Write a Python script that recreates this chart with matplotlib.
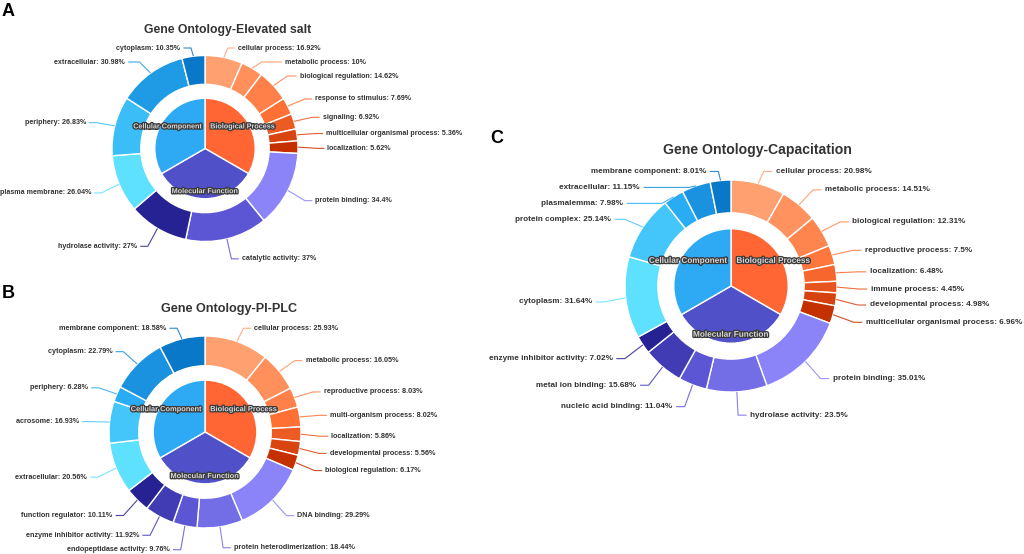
import numpy as np
import matplotlib
matplotlib.use("Agg")
import matplotlib.pyplot as plt
import matplotlib.patheffects as pe

W, H = 1024, 554
FONT = "Liberation Sans"

# ---------------- data ----------------
CATEGORIES = ["Biological Process", "Molecular Function", "Cellular Component"]
INNER_SHARES = [1, 1, 1]

A_TITLE = "Gene Ontology-Elevated salt"
A_BP_NAMES = ["cellular process", "metabolic process", "biological regulation",
              "response to stimulus", "signaling", "multicellular organismal process",
              "localization"]
A_BP_VALS = [16.92, 10, 14.62, 7.69, 6.92, 5.36, 5.62]
A_MF_NAMES = ["protein binding", "catalytic activity", "hydrolase activity"]
A_MF_VALS = [34.4, 37, 27]
A_CC_NAMES = ["plasma membrane", "periphery", "extracellular", "cytoplasm"]
A_CC_VALS = [26.04, 26.83, 30.98, 10.35]

B_TITLE = "Gene Ontology-PI-PLC"
B_BP_NAMES = ["cellular process", "metabolic process", "reproductive process",
              "multi-organism process", "localization", "developmental process",
              "biological regulation"]
B_BP_VALS = [25.93, 16.05, 8.03, 8.02, 5.86, 5.56, 6.17]
B_MF_NAMES = ["DNA binding", "protein heterodimerization", "endopeptidase activity",
              "enzyme inhibitor activity", "function regulator"]
B_MF_VALS = [29.29, 18.44, 9.76, 11.92, 10.11]
B_CC_NAMES = ["extracellular", "acrosome", "periphery", "cytoplasm", "membrane component"]
B_CC_VALS = [20.56, 16.93, 6.28, 22.79, 18.58]

C_TITLE = "Gene Ontology-Capacitation"
C_BP_NAMES = ["cellular process", "metabolic process", "biological regulation",
              "reproductive process", "localization", "immune process",
              "developmental process", "multicellular organismal process"]
C_BP_VALS = [20.98, 14.51, 12.31, 7.5, 6.48, 4.45, 4.98, 6.96]
C_MF_NAMES = ["protein binding", "hydrolase activity", "nucleic acid binding",
              "metal ion binding", "enzyme inhibitor activity"]
C_MF_VALS = [35.01, 23.5, 11.04, 15.68, 7.02]
C_CC_NAMES = ["cytoplasm", "protein complex", "plasmalemma", "extracellular",
              "membrane component"]
C_CC_VALS = [31.64, 25.14, 7.98, 11.15, 8.01]

# ---------------- styles ----------------
INNER_COLORS = ["#ff6633", "#5050c8", "#2eaaf5"]
BP_STOPS = [(255, 160, 112), (255, 112, 52), (196, 48, 0)]
MF_STOPS = [(138, 132, 248), (92, 86, 212), (38, 34, 148)]
CC_STOPS = [(94, 224, 255), (42, 172, 245), (10, 120, 200)]


def shades(stops, n):
    arr = np.array(stops, dtype=float) / 255.0
    if n == 1:
        return [tuple(arr[0])]
    t = np.linspace(0, 1, n)
    pos = np.linspace(0, 1, len(arr))
    return [tuple(np.interp(ti, pos, arr[:, k]) for k in range(3)) for ti in t]


def Y(y):
    return H - y


def draw_chart(ax, cx, cy, r, title, groups):
    s = r / 93.0
    names, vals, cols = [], [], []
    for (nm, vl), stops in zip(groups, [BP_STOPS, MF_STOPS, CC_STOPS]):
        names += nm
        vals += vl
        cols += shades(stops, len(vl))

    wedges, _ = ax.pie(vals, radius=r, center=(cx, Y(cy)), startangle=90,
                       counterclock=False, colors=cols,
                       wedgeprops=dict(width=r * 0.31, edgecolor="white", linewidth=1.0))
    r_in = 0.54 * r
    iw, _ = ax.pie(INNER_SHARES, radius=r_in, center=(cx, Y(cy)), startangle=90,
                   counterclock=False, colors=INNER_COLORS,
                   wedgeprops=dict(edgecolor="white", linewidth=1.0))

    # inner labels
    for w, cat in zip(iw, CATEGORIES):
        mid = np.deg2rad((w.theta1 + w.theta2) / 2)
        px = cx + 0.86 * r_in * np.cos(mid)
        py = cy - 0.86 * r_in * np.sin(mid)
        ax.text(px, Y(py), cat, ha="center", va="center", fontsize=5.2 * s,
                fontweight="bold", family=FONT, color="#d9d9d9", zorder=6,
                path_effects=[pe.Stroke(linewidth=1.9, foreground="#3a3a3a"), pe.Normal()])

    # outer labels (echarts-like layout)
    R = r + 19 * s
    cyl = cy + 1.5 * s
    K = 10.5 * s
    hgap = 14 * s
    top = cy - 100.5 * s
    items = []
    for w, nm, vl, col in zip(wedges, names, vals, cols):
        mid = np.deg2rad((w.theta1 + w.theta2) / 2)
        ux, uy = np.cos(mid), -np.sin(mid)
        d = 1 if ux >= 0 else -1
        items.append(dict(text=f"{nm}: {vl:g}%", col=col, d=d,
                          ex=cx + r * ux, ey=cy + r * uy,
                          bx=cx + R * ux, y=cyl + R * uy))
    for side in (1, -1):
        lst = sorted([it for it in items if it["d"] == side], key=lambda it: it["y"])
        prev = -1e9
        for it in lst:
            y0 = it["y"]
            if y0 < top:
                y0 = top
            pushed = False
            if y0 < prev + hgap:
                y0 = prev + hgap
                pushed = True
            nat = abs(it["bx"] - cx)
            if pushed:
                dy = y0 - cyl
                nat = max(nat, np.sqrt(max(R * R - dy * dy, 0.0)))
            it["y"] = y0
            it["tx"] = cx + side * (nat + K)
            prev = y0
    for it in items:
        d = it["d"]
        ax.plot([it["ex"], it["bx"], it["tx"] - d * 3 * s],
                [Y(it["ey"]), Y(it["y"]), Y(it["y"])],
                color=it["col"], lw=0.8, alpha=0.85, zorder=3, solid_capstyle="butt")
        ax.text(it["tx"], Y(it["y"]), it["text"], ha="left" if d > 0 else "right",
                va="center", fontsize=5.1 * s, fontweight="bold", family=FONT,
                color="#333333", zorder=5)

    ax.text(cx + 23 * s, Y(cy - 119 * s), title, ha="center", va="center",
            fontsize=8.85 * s, fontweight="bold", family=FONT, color="#333333")


fig = plt.figure(figsize=(W / 100, H / 100), dpi=100)
ax = fig.add_axes([0, 0, 1, 1])

draw_chart(ax, 205, 148.5, 93, A_TITLE,
           [(A_BP_NAMES, A_BP_VALS), (A_MF_NAMES, A_MF_VALS), (A_CC_NAMES, A_CC_VALS)])
draw_chart(ax, 205, 432, 96, B_TITLE,
           [(B_BP_NAMES, B_BP_VALS), (B_MF_NAMES, B_MF_VALS), (B_CC_NAMES, B_CC_VALS)])
draw_chart(ax, 731, 286, 106, C_TITLE,
           [(C_BP_NAMES, C_BP_VALS), (C_MF_NAMES, C_MF_VALS), (C_CC_NAMES, C_CC_VALS)])

for letter, (lx, ly) in zip(["A", "B", "C"], [(2, 16), (2, 298), (490, 143)]):
    ax.text(lx, Y(ly), letter, ha="left", va="baseline", fontsize=13,
            fontweight="bold", family=FONT, color="black")

ax.set_xlim(0, W)
ax.set_ylim(0, H)
ax.set_aspect("equal")
ax.axis("off")
fig.savefig("out.png", dpi=100, facecolor="white")
